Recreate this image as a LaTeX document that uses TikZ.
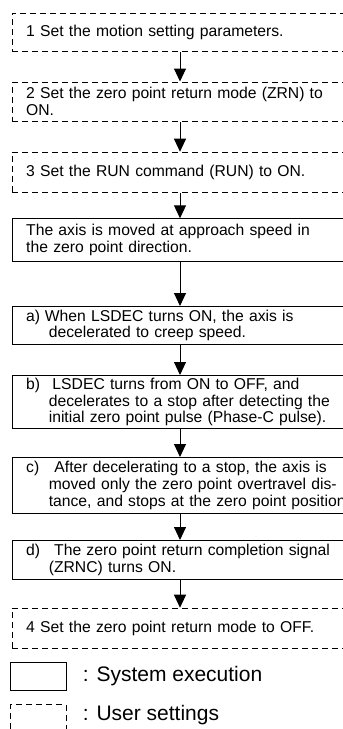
\documentclass[tikz,border=0pt]{standalone}
\usepackage{fontspec}
\setmainfont{Liberation Sans}
\usetikzlibrary{arrows.meta}
\newcommand\mainfs{\fontsize{15.7}{16.8}\selectfont}
\newcommand\legfs{\fontsize{21}{24}\selectfont}
\newcommand\lbl[2]{\makebox[#1][l]{#2}}
\newcommand\hin{\hspace*{22.6pt}}
\begin{document}
\begin{tikzpicture}[x=1pt,y=-1pt,
  sysbox/.style={draw, line width=1pt, anchor=north west,
    text width=380pt, align=left, inner xsep=14pt, inner ysep=0pt, font=\mainfs},
  userbox/.style={sysbox, dash pattern=on 6pt off 4pt},
  flow/.style={-{Triangle[length=13pt,width=12pt]}, line width=1pt},
  legbox/.style={draw, line width=1pt, anchor=north west, minimum width=56pt, inner sep=0pt},
  legtext/.style={anchor=base west, inner sep=0pt, font=\legfs}]
\clip (0,0) rectangle (343,729);
\fill[white] (0,0) rectangle (343,729);
\coordinate (ax) at (180,0);

\node[userbox, minimum height=38pt] (s1) at (11.7,12.7) {1 Set the motion setting parameters.};
\node[userbox, minimum height=39.5pt] (s2) at (11.7,81.5) {2 Set the zero point return mode (ZRN) to\\ON.};
\node[userbox, minimum height=40pt] (s3) at (11.7,151.7) {3 Set the RUN command (RUN) to ON.};
\node[sysbox, minimum height=42.4pt] (e0) at (11.7,218.3) {The axis is moved at approach speed in\\the zero point direction.};
\node[sysbox, minimum height=38pt] (ea) at (11.7,306) {\lbl{18.7pt}{a)}When LSDEC turns ON, the axis is\\\hin decelerated to creep speed.};
\node[sysbox, minimum height=53pt] (eb) at (11.7,375) {\lbl{26.3pt}{b)}LSDEC turns from ON to OFF, and\\\hin decelerates to a stop after detecting the\\\hin initial zero point pulse (Phase-C pulse).};
\node[sysbox, minimum height=55.5pt] (ec) at (11.7,457) {\lbl{28.3pt}{c)}After decelerating to a stop, the axis is\\\hin moved only the zero point overtravel dis-\\\hin tance, and stops at the zero point position};
\node[sysbox, minimum height=39.2pt] (ed) at (11.7,540) {\lbl{28pt}{d)}The zero point return completion signal\\\hin (ZRNC) turns ON.};
\node[userbox, minimum height=40pt] (s4) at (11.7,607.7) {4 Set the zero point return mode to OFF.};

\draw[flow] (s1.south -| ax) -- (s2.north -| ax);
\draw[flow] (s2.south -| ax) -- (s3.north -| ax);
\draw[flow] (s3.south -| ax) -- (e0.north -| ax);
\draw[flow] (e0.south -| ax) -- (ea.north -| ax);
\draw[flow] (ea.south -| ax) -- (eb.north -| ax);
\draw[flow] (eb.south -| ax) -- (ec.north -| ax);
\draw[flow] (ec.south -| ax) -- (ed.north -| ax);
\draw[flow] (ed.south -| ax) -- (s4.north -| ax);

\node[legbox, minimum height=27.5pt] (lg1) at (9.5,662) {};
\node[legtext] (lt1) at (82.7,681.7) {: System execution};
\node[legbox, minimum height=40pt, dash pattern=on 6pt off 4pt] (lg2) at (9.5,704) {};
\node[legtext] (lt2) at (82.7,720) {: User settings};
\end{tikzpicture}
\end{document}
